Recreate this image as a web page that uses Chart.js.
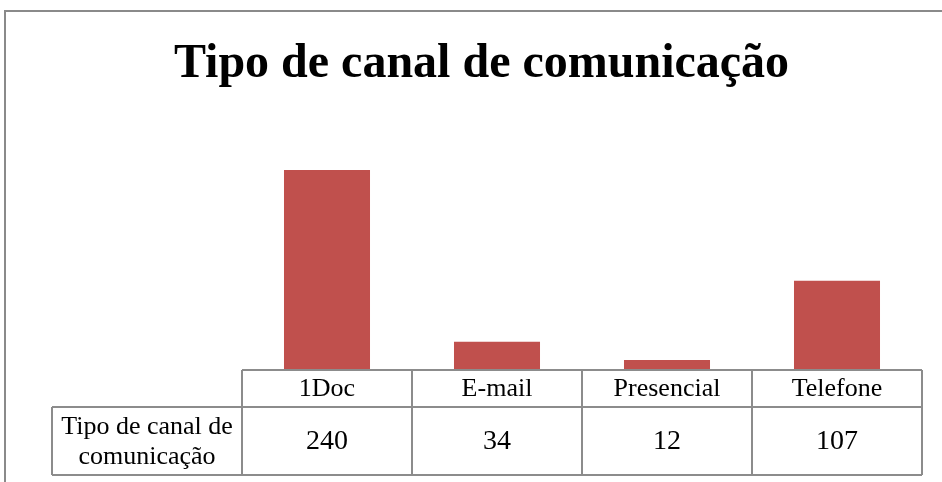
<!DOCTYPE html>
<html>
<head>
<meta charset="utf-8">
<script src="https://cdn.jsdelivr.net/npm/chart.js@4.4.1/dist/chart.umd.min.js"></script>
<style>
  html, body { margin: 0; padding: 0; background: #ffffff; }
  #wrap { width: 942px; height: 482px; position: relative; }
</style>
</head>
<body>
<div id="wrap"><canvas id="canalChart"></canvas></div>
<script>
// ─── Data ─────────────────────────────────────────────────────────────────────
const chartTitle = 'Tipo de canal de comunicação';
const seriesName = ['Tipo de canal de', 'comunicação'];
const categories = ['1Doc', 'E-mail', 'Presencial', 'Telefone'];
const values = [240, 34, 12, 107];
const axisMax = 300;

const BAR_RED = '#C0504D';
const GRID_GRAY = '#8c8c8c';
const SERIF = '"Liberation Serif", "Times New Roman", serif';

// ── frame + title ─────────────────────────────────────────────────────────────
const framePlugin = {
  id: 'frame',
  beforeDraw(chart) {
    const { ctx } = chart;
    ctx.save();
    ctx.strokeStyle = '#8a8a8a';
    ctx.lineWidth = 2;
    ctx.beginPath();
    ctx.moveTo(5, chart.height + 2);
    ctx.lineTo(5, 11);
    ctx.lineTo(chart.width + 2, 11);
    ctx.stroke();

    ctx.fillStyle = '#000000';
    ctx.font = 'bold 48px ' + SERIF;
    ctx.textAlign = 'center';
    ctx.textBaseline = 'alphabetic';
    ctx.fillText(chartTitle, 481.5, 77);
    ctx.restore();
  },
};

// ── data table under the plot ────────────────────────────────────────────────
const dataTablePlugin = {
  id: 'dataTable',
  afterDatasetsDraw(chart) {
    const { ctx, chartArea } = chart;
    const xScale = chart.scales.x;
    const left = chartArea.left;
    const right = chartArea.right;
    const colW = (right - left) / categories.length;
    const top = chartArea.bottom;
    const mid = top + 37;
    const bottom = top + 105;
    const labelLeft = 52;

    ctx.save();
    ctx.strokeStyle = GRID_GRAY;
    ctx.lineWidth = 2;
    ctx.beginPath();
    // horizontal lines
    ctx.moveTo(left, top); ctx.lineTo(right, top);
    ctx.moveTo(labelLeft, mid); ctx.lineTo(right, mid);
    ctx.moveTo(labelLeft, bottom); ctx.lineTo(right, bottom);
    // vertical lines
    ctx.moveTo(labelLeft, mid); ctx.lineTo(labelLeft, bottom);
    for (let i = 0; i <= categories.length; i++) {
      const x = left + i * colW;
      ctx.moveTo(x, top); ctx.lineTo(x, bottom);
    }
    ctx.stroke();

    ctx.fillStyle = '#000000';
    ctx.textAlign = 'center';
    ctx.textBaseline = 'middle';
    categories.forEach((c, i) => {
      const cx = xScale.getPixelForValue(i);
      ctx.font = '26px ' + SERIF;
      ctx.fillText(c, cx, (top + mid) / 2 + 1);
      ctx.font = '28px ' + SERIF;
      ctx.fillText(String(values[i]), cx, (mid + bottom) / 2 + 1);
    });

    ctx.font = '26px ' + SERIF;
    const lx = (labelLeft + left) / 2;
    ctx.fillText(seriesName[0], lx, (mid + bottom) / 2 - 14);
    ctx.fillText(seriesName[1], lx, (mid + bottom) / 2 + 16);
    ctx.restore();
  },
};

new Chart(document.getElementById('canalChart'), {
  type: 'bar',
  data: {
    labels: categories,
    datasets: [
      {
        label: seriesName.join(' '),
        data: values,
        backgroundColor: BAR_RED,
        borderWidth: 0,
        barPercentage: 1,
        categoryPercentage: 0.506,
      },
    ],
  },
  options: {
    responsive: true,
    maintainAspectRatio: false,
    animation: false,
    layout: { padding: { left: 242, right: 20, top: 120, bottom: 112 } },
    plugins: {
      legend: { display: false },
      title: { display: false },
      tooltip: { enabled: false },
    },
    scales: {
      x: { display: false, grid: { display: false } },
      y: { display: false, min: 0, max: axisMax, grid: { display: false } },
    },
  },
  plugins: [framePlugin, dataTablePlugin],
});
</script>
</body>
</html>
